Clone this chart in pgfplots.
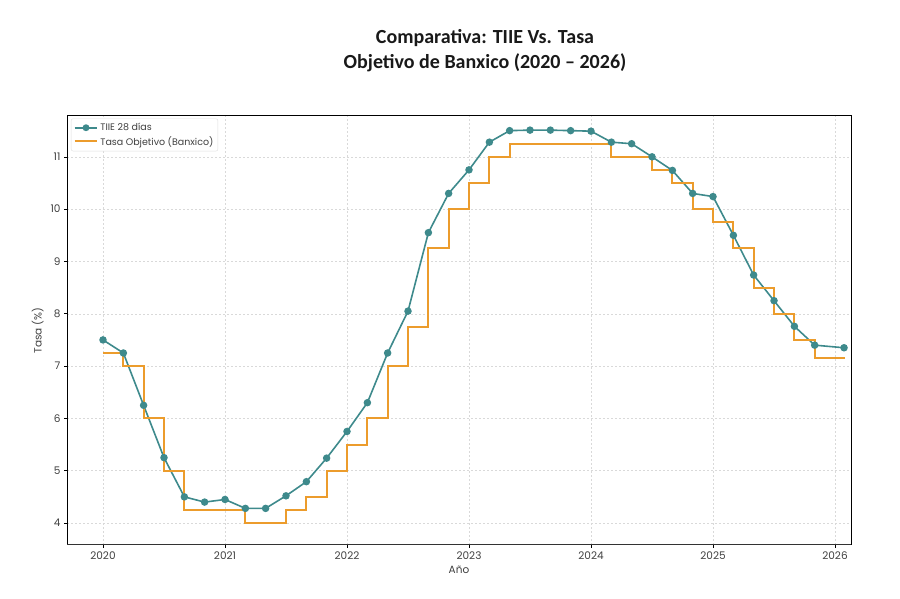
\documentclass[border=0pt]{standalone}
\usepackage{pgfplots}
\pgfplotsset{compat=1.18}
\usepackage{pgfplotstable}
\usepackage{fontspec}
\setmainfont{Poppins}
\newfontfamily\titlefont{Carlito}
\definecolor{tiie}{HTML}{3E8A8C}
\definecolor{tasa}{HTML}{EC9C2C}
\definecolor{tickgray}{HTML}{404040}
\pgfplotstableread{
x tiie tasa
2020.000 7.50 7.25
2020.167 7.25 7.00
2020.333 6.25 6.00
2020.500 5.25 5.00
2020.667 4.50 4.25
2020.833 4.40 4.25
2021.000 4.45 4.25
2021.167 4.28 4.00
2021.333 4.28 4.00
2021.500 4.52 4.25
2021.667 4.79 4.50
2021.833 5.24 5.00
2022.000 5.75 5.50
2022.167 6.30 6.00
2022.333 7.25 7.00
2022.500 8.05 7.75
2022.667 9.55 9.25
2022.833 10.30 10.00
2023.000 10.75 10.50
2023.167 11.28 11.00
2023.333 11.50 11.25
2023.500 11.51 11.25
2023.667 11.51 11.25
2023.833 11.50 11.25
2024.000 11.49 11.25
2024.167 11.28 11.00
2024.333 11.25 11.00
2024.500 11.00 10.75
2024.667 10.74 10.50
2024.833 10.30 10.00
2025.000 10.24 9.75
2025.167 9.50 9.25
2025.333 8.74 8.50
2025.500 8.25 8.00
2025.667 7.76 7.50
2025.833 7.40 7.15
2026.074 7.35 7.13
}\datatable
\begin{document}
\begin{tikzpicture}[x=1pt,y=1pt]
\path[use as bounding box] (0,0) rectangle (900,599);
\node[font=\titlefont\bfseries\fontsize{20}{25}\selectfont, align=center, text=black!90] at (485,548.5) {Comparativa: TIIE Vs. Tasa\\Objetivo de Banxico (2020 – 2026)};
\begin{axis}[
  at={(67pt,54pt)}, anchor=south west,
  width=784pt, height=429pt, scale only axis,
  xmin=2019.705, xmax=2026.131,
  ymin=3.58, ymax=11.78,
  xtick={2020,2021,2022,2023,2024,2025,2026},
  ytick={4,5,6,7,8,9,10,11},
  x tick label style={/pgf/number format/1000 sep={}},
  /pgf/number format/assume math mode=true,
  tick label style={font=\fontsize{10.5}{12}\selectfont, text=tickgray},
  label style={font=\fontsize{10.5}{12}\selectfont, text=tickgray},
  xlabel={Año}, ylabel={Tasa (\%)},
  tick align=outside, major tick length=3pt,
  tick style={black, line width=0.6pt},
  xtick pos=bottom, ytick pos=left,
  axis line style={black, line width=1pt},
  grid=major,
  major grid style={gray!30, dash pattern=on 2pt off 2pt, line width=0.5pt},
  legend style={at={(0.005,0.994)}, anchor=north west, draw=gray!25, rounded corners=2pt,
    font=\fontsize{9.5}{11}\selectfont, text=tickgray, row sep=0pt, inner sep=2.5pt},
  legend cell align=left,
]
\addplot[tiie, line width=1.6pt, mark=*, mark size=2.9pt, mark options={solid, fill=tiie, draw=tiie},
  legend image code/.code={\draw[tiie, line width=1.6pt] (0cm,0cm) -- (0.8cm,0cm);
    \fill[tiie] (0.4cm,0cm) circle (2.6pt);}] table[x=x, y=tiie] {\datatable};
\addlegendentry{TIIE 28 días}
\addplot[tasa, line width=2pt, const plot,
  legend image code/.code={\draw[tasa, line width=2pt] (0cm,0cm) -- (0.8cm,0cm);}] table[x=x, y=tasa] {\datatable};
\addlegendentry{Tasa Objetivo (Banxico)}
\draw[black, line width=1.8pt] (rel axis cs:0,0) -- (rel axis cs:0,1);
\draw[black!80, line width=2.2pt] (rel axis cs:0,0) -- (rel axis cs:1,0);
\end{axis}
\end{tikzpicture}
\end{document}
